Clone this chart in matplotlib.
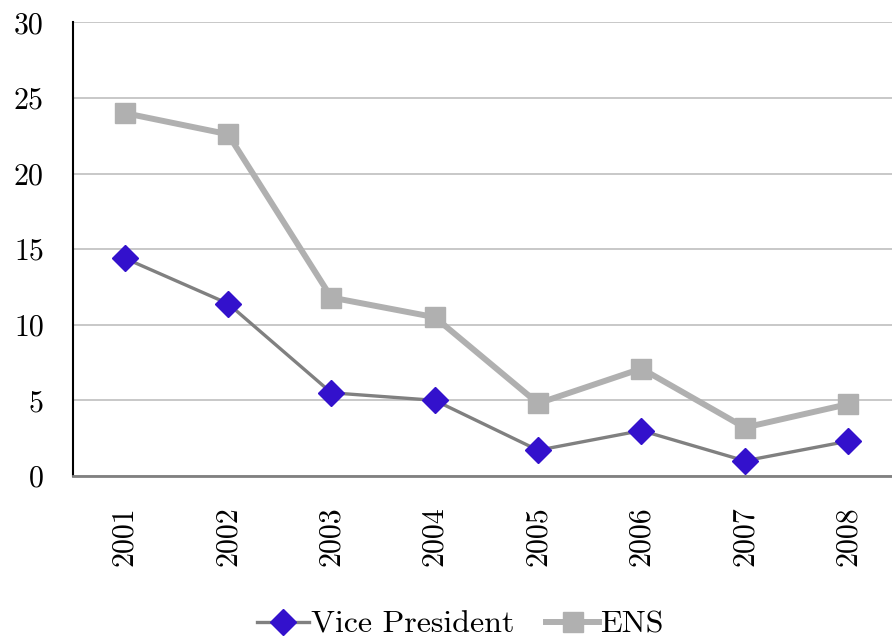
import matplotlib
matplotlib.use("Agg")
import matplotlib.pyplot as plt
import numpy as np

YEARS = ["2001", "2002", "2003", "2004", "2005", "2006", "2007", "2008"]
VICE_PRESIDENT = [14.4, 11.4, 5.5, 5.0, 1.7, 3.0, 1.0, 2.3]
ENS = [24.0, 22.6, 11.8, 10.5, 4.8, 7.1, 3.2, 4.75]

VP_LINE = "#808080"
VP_MARK = "#3311cc"
ENS_COLOR = "#b0b0b0"

plt.rcParams.update(
    {
        "font.family": ["cmr10", "DejaVu Serif"],
        "mathtext.fontset": "cm",
        "axes.formatter.use_mathtext": True,
        "font.size": 21.5,
    }
)

fig = plt.figure(figsize=(8.92, 6.38), dpi=100)
ax = fig.add_axes([0.0818, 0.254, 0.927, 0.711])

x = np.arange(len(YEARS))
ax.plot(x, VICE_PRESIDENT, color=VP_LINE, linewidth=2.4, marker="D", markersize=13.5,
        markerfacecolor=VP_MARK, markeredgecolor=VP_MARK, label="Vice President", zorder=3)
ax.plot(x, ENS, color=ENS_COLOR, linewidth=4.3, marker="s", markersize=14,
        markerfacecolor=ENS_COLOR, markeredgecolor=ENS_COLOR, label="ENS", zorder=2)

ax.set_xlim(-0.5, len(YEARS) - 0.5)
ax.set_ylim(0, 30)
ax.set_yticks(range(0, 31, 5))
ax.set_yticklabels([str(v) for v in range(0, 31, 5)])
ax.set_xticks(x)
ax.set_xticklabels(YEARS, rotation=90)
ax.grid(axis="y", color="#c4c4c4", linewidth=1.3)
ax.set_axisbelow(True)

for side in ("top", "right"):
    ax.spines[side].set_visible(False)
ax.spines["left"].set_color("black")
ax.spines["left"].set_linewidth(1.5)
ax.spines["bottom"].set_color("#808080")
ax.spines["bottom"].set_linewidth(2)
ax.tick_params(axis="y", length=0, pad=21)
ax.tick_params(axis="x", length=0, pad=22)

ax.legend(loc="center", bbox_to_anchor=(0.516, 0.021),
          bbox_transform=fig.transFigure, ncol=2, frameon=False, handlelength=1.65,
          handletextpad=0.05, columnspacing=1.0, fontsize=23, borderpad=0)

fig.savefig("out.png", dpi=100)
